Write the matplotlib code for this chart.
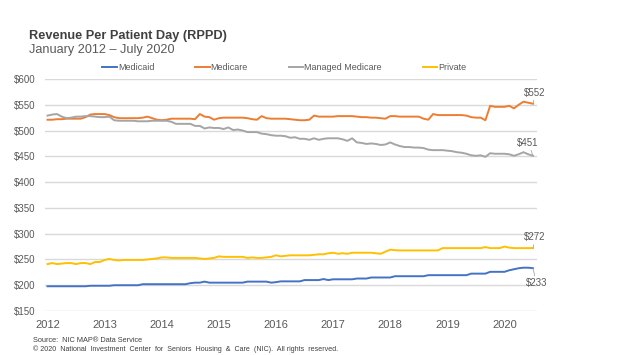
import numpy as np
import matplotlib
matplotlib.use("Agg")
import matplotlib.pyplot as plt

plt.rcParams["font.family"] = ["Liberation Sans", "DejaVu Sans"]

# monthly values, January 2012 - July 2020
medicaid = [
    198, 198, 198, 198, 198, 198, 198, 198, 198, 199, 199, 199,
    199, 199, 200, 200, 200, 200, 200, 200, 202, 202, 202, 202,
    202, 202, 202, 202, 202, 202, 204, 205, 205, 207, 205, 205,
    205, 205, 205, 205, 205, 205, 207, 207, 207, 207, 207, 205,
    206, 207.5, 207.5, 207.5, 207.5, 207.5, 210, 210, 210, 210, 212, 210,
    211.5, 211.5, 211.5, 211.5, 211.5, 213, 213, 213, 215, 215, 215, 215,
    215, 217.5, 217.5, 217.5, 217.5, 217.5, 217.5, 217.5, 219.5, 219.5, 219.5, 219.5,
    219.5, 219.5, 219.5, 219.5, 219.5, 222.5, 222.5, 222.5, 222.5, 226, 226, 226,
    226, 229, 231, 233, 234, 234, 233,
]
medicare = [
    521, 521, 522, 522, 523, 523, 523, 523, 526, 531, 532, 532,
    532, 530, 526, 524, 524, 524, 524, 524, 525, 527, 524, 521,
    520, 521, 523, 523, 523, 523, 523, 522, 532, 527, 526, 521,
    524, 525, 525, 525, 525, 525, 524, 522, 521, 528, 524, 523,
    523, 523, 523, 522, 521, 520, 520, 521, 529, 527, 527, 527,
    527, 528, 528, 528, 528, 527, 526, 526, 525, 525, 524, 523,
    528, 528, 527, 527, 527, 527, 527, 523, 521, 532, 530, 530,
    530, 530, 530, 530, 529, 526, 525, 525, 520, 548, 546, 546,
    546, 548, 543, 550, 556, 554, 552,
]
managed_medicare = [
    529, 531, 532, 527, 524, 525, 527, 527, 528, 528, 527, 526,
    526, 527, 520, 519, 519, 519, 519, 518, 518, 518, 519, 519,
    519, 519, 517, 513, 513, 513, 513, 509, 509, 504, 506, 505,
    505, 503, 506, 501, 502, 500, 497, 497, 497, 494, 493, 491,
    490, 490, 489, 486, 487, 484, 484, 482, 485, 482, 484, 485,
    485, 485, 483, 480, 485, 477, 476, 474, 475, 474, 472, 473,
    477, 473, 470, 468, 468, 467, 467, 466, 463, 462, 462, 462,
    461, 460, 458, 457, 455, 452, 451, 452, 449, 456, 455, 455,
    455, 454, 451, 454, 458, 454, 451,
]
private = [
    241, 243, 241, 242, 243, 243, 241, 243, 243, 241, 245, 245,
    249, 251, 249, 248, 249, 249, 249, 249, 249, 250, 251, 252,
    254, 254, 253, 253, 253, 253, 253, 253, 252, 251, 252, 253,
    256, 255, 255, 255, 255, 255, 253, 254, 253, 253, 254, 255,
    258, 256, 257, 258, 258, 258, 258, 258, 259, 260, 260, 262,
    263, 261, 262, 261, 263, 263, 263, 263, 263, 262, 261, 265,
    269, 268, 267.5, 267.5, 267.5, 267.5, 267.5, 267.5, 267.5, 267.5, 267.5, 272,
    272, 272, 272, 272, 272, 272, 272, 272, 274, 272, 272, 272,
    275, 273, 272, 272, 272, 272, 272,
]
series_names = ["Medicaid", "Medicare", "Managed Medicare", "Private"]
series_colors = ["#4472C4", "#ED7D31", "#A5A5A5", "#FFC000"]
end_labels = ["$233", "$552", "$451", "$272"]
# label offsets (points) from the last point
end_offsets = [(2.5, -11), (1.5, 8), (-3.5, 9.5), (1.5, 8)]

years = list(range(2012, 2021))
yticks = list(range(150, 601, 50))

months = 2012 + np.arange(len(medicaid)) / 12.0

fig = plt.figure(figsize=(6.24, 3.55), dpi=100)
ax = fig.add_axes([0.0721, 0.1239, 0.7885, 0.6536])

grey = "#595959"
for name, vals, col, lab, off in zip(
    series_names, [medicaid, medicare, managed_medicare, private],
    series_colors, end_labels, end_offsets,
):
    ax.plot(months, vals, color=col, lw=1.4, label=name, solid_joinstyle="round")
    ax.annotate(
        lab, xy=(months[-1], vals[-1]), xytext=off, textcoords="offset points",
        ha="center", va="center", fontsize=7, color=grey,
        arrowprops=dict(arrowstyle="-", color="#A6A6A6", lw=0.6, shrinkA=0, shrinkB=0),
    )

ax.set_xlim(2011.956, 2020.57)
ax.set_ylim(150, 600)
ax.set_xticks(years)
ax.set_xticklabels([str(y) for y in years])
ax.set_yticks(yticks)
ax.set_yticklabels([f"${v}" for v in yticks])
ax.tick_params(axis="x", length=0, pad=6.5, labelsize=8, labelcolor=grey)
ax.tick_params(axis="y", length=0, pad=7, labelsize=7, labelcolor=grey)
ax.grid(axis="y", color="#D9D9D9", lw=1)
ax.set_axisbelow(True)
for s in ax.spines.values():
    s.set_visible(False)

fig.text(0.0465, 0.890, "Revenue Per Patient Day (RPPD)", fontsize=9.2,
         fontweight="bold", color="#404040")
fig.text(0.0465, 0.851, "January 2012 \u2013 July 2020", fontsize=9.1, color=grey)

fig.legend(loc="center left", bbox_to_anchor=(102 / 624, 1 - 68 / 355), ncol=4,
           frameon=False, fontsize=6.5, handlelength=1.65, handletextpad=0.1,
           columnspacing=4.5, borderpad=0, borderaxespad=0, labelcolor=grey)

fig.text(0.053, 1 - 342 / 355, "Source:  NIC MAP\u00ae Data Service", fontsize=5.3, color="#404040")
fig.text(0.053, 1 - 351 / 355,
         "\u00a9 2020  National  Investment  Center  for  Seniors  Housing  &  Care  (NIC).  All rights  reserved.",
         fontsize=5.1, color="#404040")

fig.savefig("out.png", dpi=100)
